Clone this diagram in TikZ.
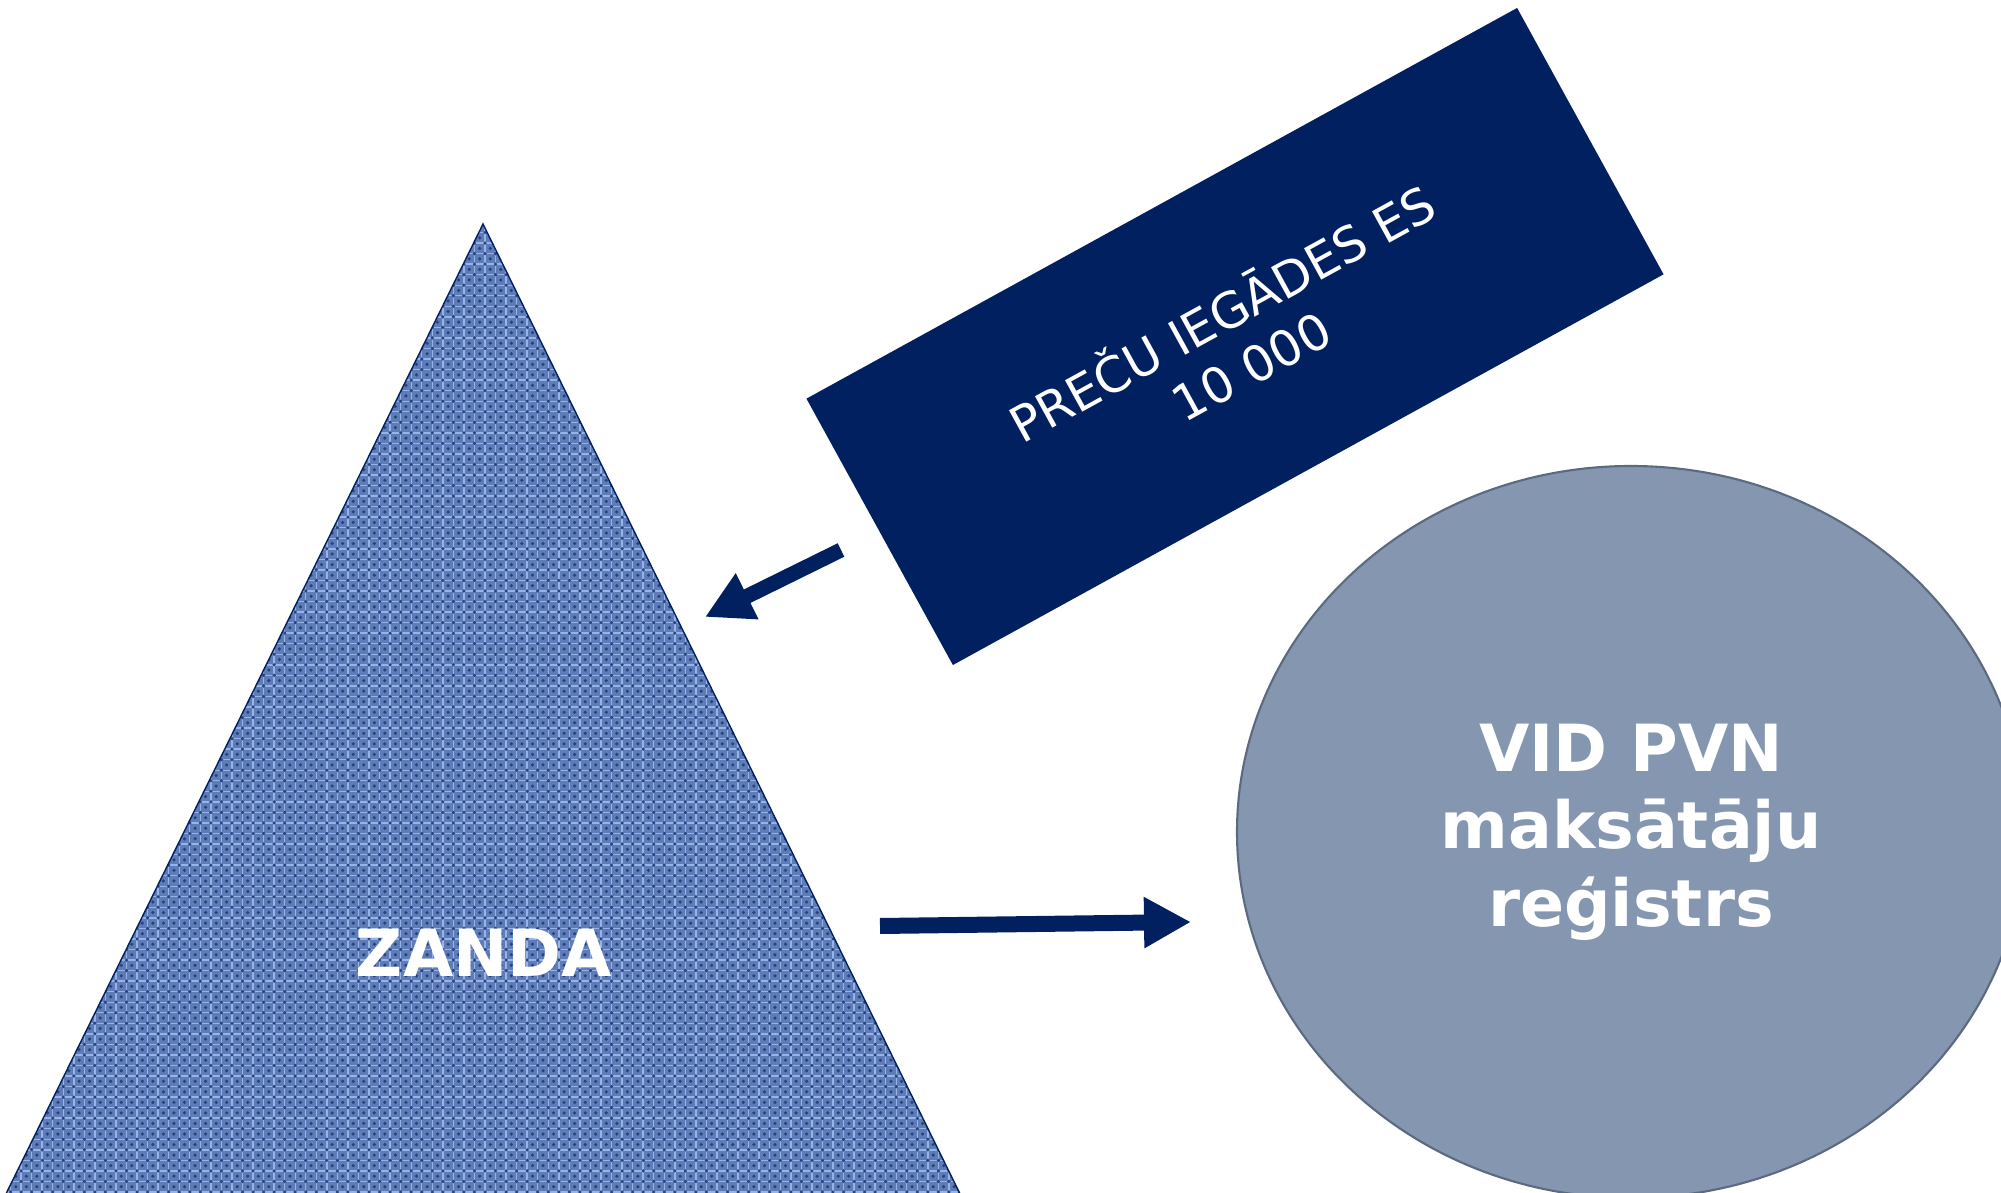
\documentclass[tikz,border=0pt]{standalone}
\usepackage{fontspec}
\setmainfont{DejaVu Sans}
\usetikzlibrary{arrows.meta,shapes.geometric,patterns}
\definecolor{vidnavy}{RGB}{000, 032, 096}
\definecolor{zandablue}{RGB}{094, 124, 184}
\definecolor{zandalight}{RGB}{150, 180, 232}
\definecolor{zandadark}{RGB}{040, 066, 124}
\definecolor{regslate}{RGB}{132, 150, 176}
\definecolor{regedge}{RGB}{092, 106, 128}

\begin{document}
\begin{tikzpicture}[
    flow/.style={-{Triangle[length=.47cm,width=.48cm]},line width=.15cm,vidnavy},
    whitebold/.style={text=white,font=\fontsize{18.5}{22}\selectfont\bfseries}
  ]
  \useasboundingbox (0,0) rectangle (20.01,11.92);
  \clip (0,0) rectangle (20.01,11.92);
  %\draw[step=1cm,gray,very thin] (0,0) grid (20,12);
  % ZANDA triangle
  \coordinate (apex) at (4.83,9.68);
  \coordinate (baseL) at (0.02,-0.1);
  \coordinate (baseR) at (9.64,-0.1);
  \fill[zandablue] (apex) -- (baseR) -- (baseL) -- cycle;
  \fill[pattern=grid,pattern color=zandalight] (apex) -- (baseR) -- (baseL) -- cycle;
  \fill[pattern=crosshatch dots,pattern color=zandadark] (apex) -- (baseR) -- (baseL) -- cycle;
  \draw[vidnavy,thin] (baseL) -- (apex) -- (baseR);
  \node[whitebold] (zanda) at (4.84,2.39) {ZANDA};
  % purchases box
  \node[fill=vidnavy,rotate=28.8,minimum width=8.11cm,minimum height=3.04cm,inner sep=0,
        text=white,align=center,font=\fontsize{14}{17}\selectfont] (purch) at (12.35,8.555)
        {PREČU IEGĀDES ES\\10 000};
  % register
  \node[ellipse,fill=regslate,draw=regedge,line width=.6pt,minimum width=7.88cm,
        minimum height=7.32cm,inner sep=0,whitebold,align=center] (vidreg) at (16.31,3.60)
        {VID PVN\\maksātāju\\reģistrs};
  % arrows
  \coordinate (buyfrom) at (8.41,6.42);
  \coordinate (buyto) at (7.05,5.75);
  \draw[flow] (buyfrom) -- (buyto);
  \coordinate (regfrom) at (8.80,2.66);
  \coordinate (regto) at (11.91,2.70);
  \draw[flow,line width=.16cm] (regfrom) -- (regto);
\end{tikzpicture}
\end{document}
